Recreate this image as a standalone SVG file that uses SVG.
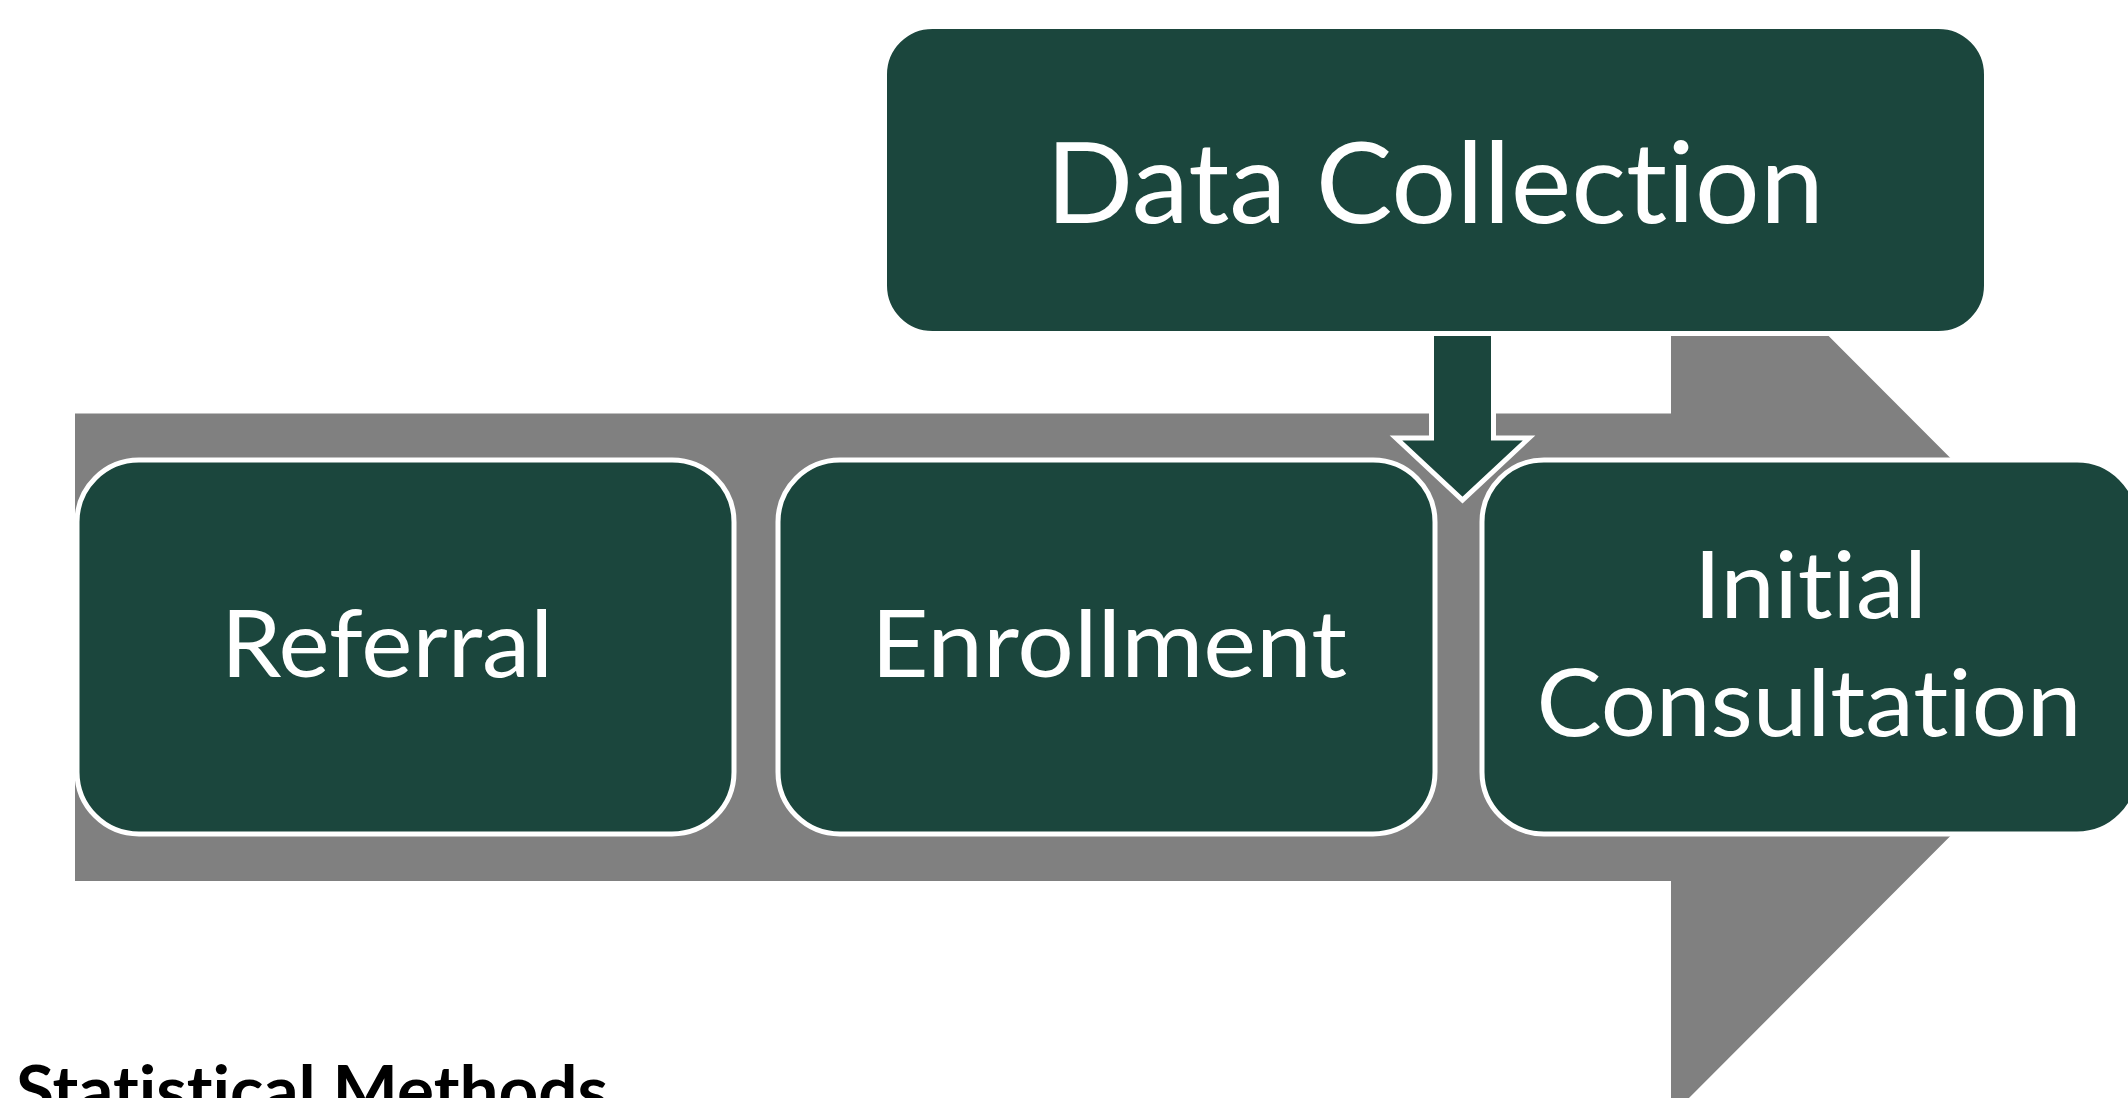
<svg xmlns="http://www.w3.org/2000/svg" width="2128" height="1098" viewBox="0 0 2128 1098">
  <style>
    .step { fill: #1B463D; stroke: #FFFFFF; stroke-width: 5; }
    .label { fill: #FFFFFF; font-family: Lato, "Open Sans", "DejaVu Sans", sans-serif; font-weight: 400; text-anchor: middle; font-variant-ligatures: none; font-feature-settings: "liga" 0, "clig" 0; }
    .big { font-size: 112px; }
    .mid { font-size: 94px; }
    .heading { fill: #000000; font-family: Lato, "Open Sans", "DejaVu Sans", sans-serif; font-weight: 700; font-size: 66px; font-variant-ligatures: none; font-feature-settings: "liga" 0, "clig" 0; }
  </style>
  <rect width="2128" height="1098" fill="#FFFFFF"/>

  <!-- wide grey process arrow behind the steps -->
  <g id="process-arrow">
    <path d="M75,413.5 H1671 V178 L2139,647 L1671,1116 V881 H75 Z" fill="#808080"/>
  </g>

  <!-- connectors -->
  <g id="connectors">
    <path id="data-to-process" d="M1431.5,300 H1493.5 V438 H1529 L1462.5,500 L1396,438 H1431.5 Z" fill="#1B463D" stroke="#FFFFFF" stroke-width="5" stroke-linejoin="miter"/>
  </g>

  <g id="data-collection">
    <rect class="step" x="884.5" y="26.5" width="1102" height="307" rx="48" ry="48"/>
    <text class="label big" x="1435" y="223" textLength="778" lengthAdjust="spacingAndGlyphs">Data Collection</text>
  </g>

  <g id="referral">
    <rect class="step" x="77" y="460" width="657" height="374" rx="62" ry="62"/>
    <text class="label mid" x="387" y="677" textLength="332" lengthAdjust="spacingAndGlyphs">Referral</text>
  </g>

  <g id="enrollment">
    <rect class="step" x="778" y="460" width="657" height="374" rx="62" ry="62"/>
    <text class="label mid" x="1109" y="677" textLength="476" lengthAdjust="spacingAndGlyphs">Enrollment</text>
  </g>

  <g id="initial-consultation">
    <rect class="step" x="1482" y="460" width="657" height="374" rx="62" ry="62"/>
    <text class="label mid" x="1810.5" y="618" textLength="233" lengthAdjust="spacingAndGlyphs">Initial</text>
    <text class="label mid" x="1809" y="736" textLength="545" lengthAdjust="spacingAndGlyphs">Consultation</text>
  </g>

  <g id="statistical-methods">
    <text class="heading" x="16" y="1114" textLength="592" lengthAdjust="spacingAndGlyphs">Statistical Methods</text>
  </g>
</svg>
